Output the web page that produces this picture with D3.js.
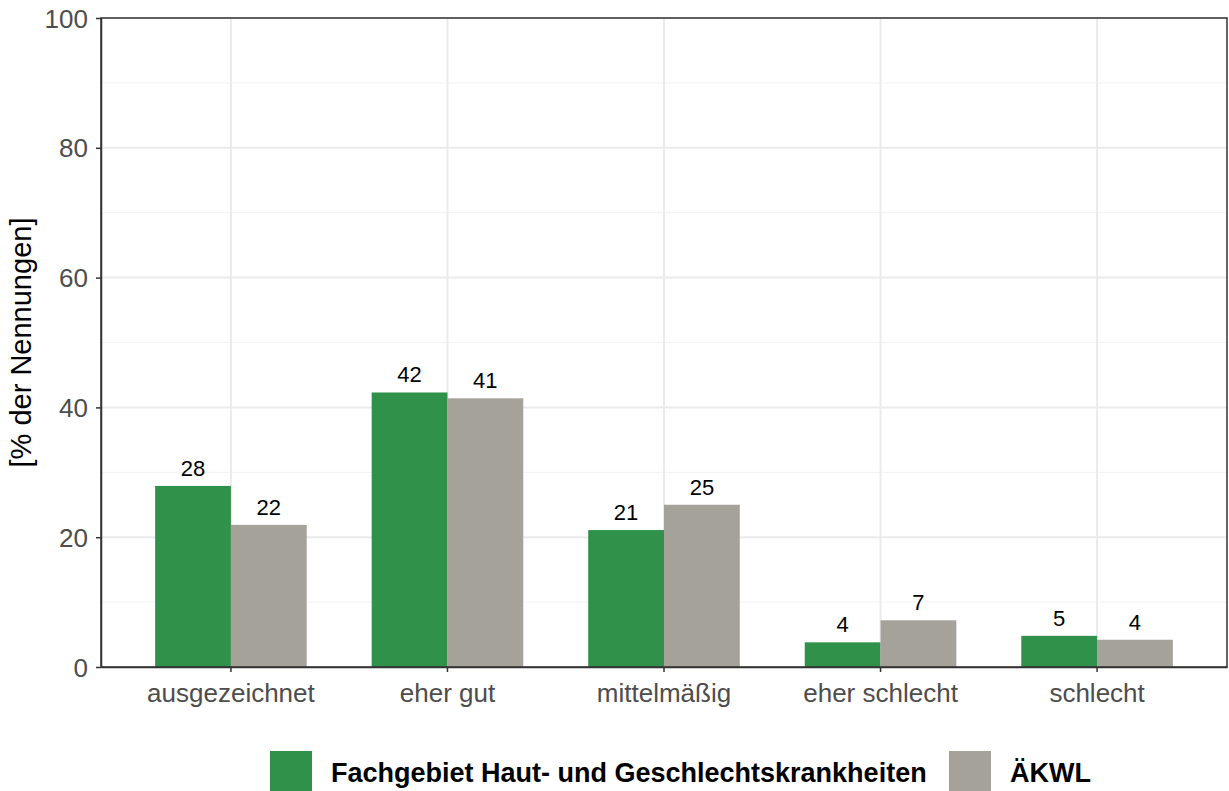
<!DOCTYPE html>
<html>
<head>
<meta charset="utf-8">
<script src="https://cdn.jsdelivr.net/npm/d3@7"></script>
<style>
  body { margin: 0; background: #fff; }
  text { font-family: "Liberation Sans", Arial, sans-serif; }
</style>
</head>
<body>
<script>
// data
const categories = ["ausgezeichnet", "eher gut", "mittelmäßig", "eher schlecht", "schlecht"];
const seriesNames = ["Fachgebiet Haut- und Geschlechtskrankheiten", "ÄKWL"];
const fachgebiet = [27.9, 42.3, 21.1, 3.8, 4.8];
const aekwl = [21.9, 41.4, 25.0, 7.2, 4.2];
const yTicks = [0, 20, 40, 60, 80, 100];
const yMinor = [10, 30, 50, 70, 90];
const colors = ["#30924a", "#a5a29a"];

const width = 1229;
const height = 791;
const margin = {top: 18, right: 2, bottom: 124, left: 101};

const svg = d3.select("body")
  .append("svg")
  .attr("width", width)
  .attr("height", height);

const x = d3.scaleBand()
  .domain(categories)
  .range([margin.left, width - margin.right])
  .paddingInner(0.3)
  .paddingOuter(0.25);

const x1 = d3.scaleBand()
  .domain(seriesNames)
  .range([0, x.bandwidth()]);

const y = d3.scaleLinear()
  .domain([0, 100])
  .range([height - margin.bottom, margin.top]);

// grid
const grid = svg.append("g");
grid.selectAll(".minor")
  .data(yMinor)
  .enter().append("line")
  .attr("x1", margin.left).attr("x2", width - margin.right)
  .attr("y1", d => y(d)).attr("y2", d => y(d))
  .attr("stroke", "#f2f2f2").attr("stroke-width", 1);
grid.selectAll(".major")
  .data(yTicks)
  .enter().append("line")
  .attr("x1", margin.left).attr("x2", width - margin.right)
  .attr("y1", d => y(d)).attr("y2", d => y(d))
  .attr("stroke", "#ebebeb").attr("stroke-width", 2);
grid.selectAll(".vert")
  .data(categories)
  .enter().append("line")
  .attr("x1", d => x(d) + x.bandwidth() / 2).attr("x2", d => x(d) + x.bandwidth() / 2)
  .attr("y1", margin.top).attr("y2", height - margin.bottom)
  .attr("stroke", "#ebebeb").attr("stroke-width", 2);

// bars
const rows = categories.map((c, i) => ({cat: c, vals: [fachgebiet[i], aekwl[i]]}));
const groups = svg.selectAll(".grp")
  .data(rows)
  .enter().append("g")
  .attr("transform", d => `translate(${x(d.cat)},0)`);

groups.selectAll("rect")
  .data(d => d.vals.map((v, j) => ({s: seriesNames[j], v: v, j: j})))
  .enter().append("rect")
  .attr("x", d => x1(d.s))
  .attr("width", x1.bandwidth())
  .attr("y", d => y(d.v))
  .attr("height", d => y(0) - y(d.v))
  .attr("fill", d => colors[d.j]);

groups.selectAll(".lbl")
  .data(d => d.vals.map((v, j) => ({s: seriesNames[j], v: v})))
  .enter().append("text")
  .attr("x", d => x1(d.s) + x1.bandwidth() / 2)
  .attr("y", d => y(d.v) - 10)
  .attr("text-anchor", "middle")
  .attr("font-size", 22)
  .attr("fill", "#000")
  .text(d => Math.round(d.v));

// panel border
svg.append("rect")
  .attr("x", margin.left).attr("y", margin.top)
  .attr("width", width - margin.right - margin.left)
  .attr("height", height - margin.bottom - margin.top)
  .attr("fill", "none").attr("stroke", "#333").attr("stroke-width", 1.5);

// axes
const yAxis = svg.append("g")
  .attr("transform", `translate(${margin.left},0)`)
  .call(d3.axisLeft(y).tickValues(yTicks).tickSize(5).tickSizeOuter(0).tickPadding(8));
const xAxis = svg.append("g")
  .attr("transform", `translate(0,${height - margin.bottom})`)
  .call(d3.axisBottom(x).tickSize(5).tickSizeOuter(0).tickPadding(6));

[yAxis, xAxis].forEach(a => {
  a.select(".domain").attr("stroke", "#333").attr("stroke-width", 1.5);
  a.selectAll(".tick line").attr("stroke", "#333").attr("stroke-width", 1.5);
  a.selectAll(".tick text")
    .attr("fill", "#4d4d4d")
    .attr("font-size", 26)
    .attr("font-family", "Liberation Sans, Arial, sans-serif");
});
yAxis.selectAll(".tick text").attr("dy", "0.35em");
xAxis.selectAll(".tick text").attr("y", 35).attr("dy", 0);

// y title
svg.append("text")
  .attr("transform", `translate(31,${(margin.top + height - margin.bottom) / 2}) rotate(-90)`)
  .attr("text-anchor", "middle")
  .attr("font-size", 29)
  .attr("fill", "#000")
  .text("[% der Nennungen]");

// legend
const legendX = [270, 949];
const legend = svg.selectAll(".leg")
  .data(seriesNames)
  .enter().append("g")
  .attr("transform", (d, i) => `translate(${legendX[i]},751)`);
legend.append("rect")
  .attr("width", 42).attr("height", 42)
  .attr("fill", (d, i) => colors[i]);
legend.append("text")
  .attr("x", 61).attr("y", 22)
  .attr("dy", "0.35em")
  .attr("font-size", 27)
  .attr("font-weight", "bold")
  .attr("fill", "#000")
  .text(d => d);
</script>
</body>
</html>
